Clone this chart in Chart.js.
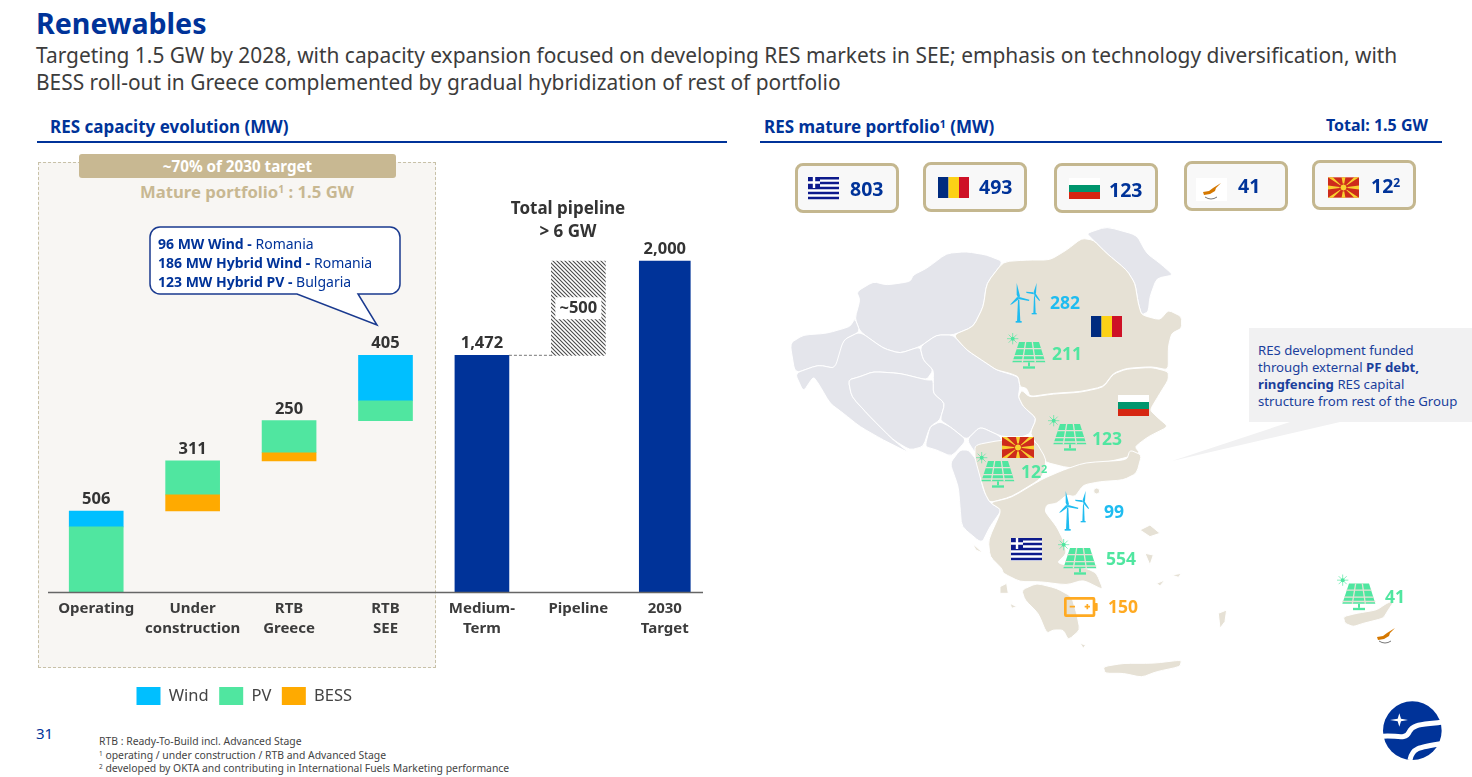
<!DOCTYPE html>
<html>
<head>
<meta charset="utf-8">
<title>Renewables</title>
<script src="https://cdn.jsdelivr.net/npm/chart.js@4"></script>
<style>
  html, body { margin: 0; padding: 0; background: #fff; }
  body { position: relative; width: 1472px; height: 777px; overflow: hidden; font-family: "Noto Sans", sans-serif; color: #333; }
  .t { position: absolute; white-space: nowrap; line-height: 1; }
  .navy { color: #003399; }
  .tan { color: #c8b892; }
  sup { font-size: 62%; line-height: 0; vertical-align: 0.5em; }
  #panel { position: absolute; left: 38px; top: 162px; width: 396px; height: 504px; background: #f8f6f3; border: 1px dashed #c8c1a8; }
  #pill { position: absolute; left: 79px; top: 154px; width: 317px; height: 24px; background: #c8b892; border-radius: 3px; color: #fff; font-weight: 700; font-size: 15.2px; line-height: 25px; text-align: center; }
  .rule { position: absolute; height: 2px; background: #003399; }
  #chart { position: absolute; left: 0; top: 0; z-index: 2; }
  #art { position: absolute; left: 0; top: 0; z-index: 3; pointer-events: none; }
  .over { z-index: 4; }
  .box { position: absolute; width: 98px; height: 44px; background: #f8f8f8; border: 3px solid #c4b78f; border-radius: 8px; }
  #note { position: absolute; left: 1249px; top: 328px; width: 223px; height: 94px; background: #f1f1f2; }
  #note div { position: absolute; left: 9px; top: 14px; font-size: 13.2px; line-height: 17px; color: #1a3f9c; white-space: nowrap; }
  #foot { position: absolute; left: 99px; top: 735px; font-size: 10.4px; line-height: 13.5px; color: #444; white-space: nowrap; }
</style>
</head>
<body>

<div class="t navy" style="left:36px;top:9px;font-size:28.6px;font-weight:700">Renewables</div>
<div class="t" style="left:36px;top:42px;font-size:20.9px;line-height:26.5px;color:#3c3c3c">Targeting 1.5 GW by 2028, with capacity expansion focused on developing RES markets in SEE; emphasis on technology diversification, with<br>BESS roll-out in Greece complemented by gradual hybridization of rest of portfolio</div>

<div class="t navy" style="left:50px;top:118px;font-size:17px;font-weight:700">RES capacity evolution (MW)</div>
<div class="rule" style="left:37px;top:141px;width:690px"></div>
<div class="t navy" style="left:764px;top:118px;font-size:17px;font-weight:700">RES mature portfolio<sup>1</sup> (MW)</div>
<div class="t navy" style="right:44px;top:117px;font-size:16px;font-weight:700">Total: 1.5 GW</div>
<div class="rule" style="left:760px;top:141px;width:682px"></div>

<div id="panel"></div>
<div id="pill">~70% of 2030 target</div>
<div class="t tan" style="left:140px;top:184px;font-size:16.7px;font-weight:700">Mature portfolio<sup>1</sup> : 1.5 GW</div>
<div class="t over" style="left:468px;top:196px;width:200px;text-align:center;font-size:17px;line-height:23px;font-weight:700;white-space:normal">Total pipeline<br>&gt; 6 GW</div>

<canvas id="chart" width="723" height="715" style="width:723px;height:715px"></canvas>

<div class="t navy over" style="left:158px;top:234px;font-size:14px;line-height:19px"><b>96 MW Wind - </b>Romania<br><b>186 MW Hybrid Wind - </b>Romania<br><b>123 MW Hybrid PV - </b>Bulgaria</div>

<div id="boxes"></div>

<div id="note"><div>RES development funded<br>through external <b>PF debt,</b><br><b>ringfencing</b> RES capital<br>structure from rest of the Group</div></div>

<div id="labels"></div>

<div class="t navy" style="left:36px;top:726px;font-size:15px">31</div>
<div id="foot">RTB : Ready-To-Build incl. Advanced Stage<br><sup>1</sup> operating / under construction / RTB and Advanced Stage<br><sup>2</sup> developed by OKTA and contributing in International Fuels Marketing performance</div>

<svg id="art" width="1472" height="777" viewBox="0 0 1472 777">
  <defs>
    <symbol id="solar" viewBox="0 0 117 108">
      <g fill="#50e6a0">
        <circle cx="17" cy="17" r="6"/>
        <path d="M17 0v34M0 17h34M5 5l24 24M29 5L5 29" stroke="#50e6a0" stroke-width="2"/>
        <path d="M36 27H96L115 88H16Z"/>
        <rect x="63" y="88" width="6" height="12"/>
        <rect x="48" y="100" width="36" height="7"/>
      </g>
      <path d="M28 47H103M21 68H109M16 81H115M56 27L46 88M76 27L85 88" stroke="#e6e1d5" stroke-width="4" fill="none"/>
    </symbol>
    <symbol id="turbine" viewBox="0 0 90 120">
      <g fill="#1fbcf0">
        <path d="M24 50h4l3 66h-10z"/>
        <rect x="17" y="114" width="18" height="5"/>
        <path d="M20 0L30 40 25 46 20 35Z"/>
        <path d="M28 42L58 50 57 54 24 48Z"/>
        <path d="M0 65L22 41 27 48 6 64Z"/>
        <path d="M72 40h3l2 52h-7z"/>
        <rect x="65" y="90" width="15" height="4"/>
        <path d="M80 0L78 30 73 35 71 27Z"/>
        <path d="M76 30L90 52 88 54 72 36Z"/>
        <path d="M48 26L70 28 72 34 50 30Z"/>
      </g>
    </symbol>
    <symbol id="battery" viewBox="0 0 102 60">
      <rect x="4" y="4" width="86" height="52" rx="2" fill="none" stroke="#ffaa22" stroke-width="8"/>
      <rect x="92" y="18" width="9" height="24" rx="2" fill="#ffaa22"/>
      <path d="M17 29h16M62 29h16M70 21v16" stroke="#ffaa22" stroke-width="5"/>
    </symbol>
    <symbol id="fl-gr" viewBox="0 0 31 23">
      <rect width="31" height="23" fill="#fff"/>
      <path d="M0 1.2H31M0 6H31M0 11H31M0 16H31M0 21H31" stroke="#0d1a8c" stroke-width="2.5"/>
      <rect width="12" height="11" fill="#0d1a8c"/>
      <path d="M6 0V11M0 5.5H12" stroke="#fff" stroke-width="2.4"/>
    </symbol>
    <symbol id="fl-ro" viewBox="0 0 31 21">
      <rect width="10.5" height="21" fill="#002b7f"/><rect x="10.5" width="10.5" height="21" fill="#fcd116"/><rect x="21" width="10" height="21" fill="#ce1126"/>
    </symbol>
    <symbol id="fl-bg" viewBox="0 0 31 21">
      <rect width="31" height="7" fill="#fff"/><rect y="7" width="31" height="7" fill="#00966e"/><rect y="14" width="31" height="7" fill="#d62612"/>
    </symbol>
    <symbol id="fl-mk" viewBox="0 0 32 21">
      <rect width="32" height="21" fill="#ce2b1c"/>
      <path d="M16 10.5L0 0H5ZM16 10.5L32 0H27ZM16 10.5L0 21H5ZM16 10.5L32 21H27ZM16 10.5L14 0H18ZM16 10.5L14 21H18ZM16 10.5L0 8.5V12.5ZM16 10.5L32 8.5V12.5Z" fill="#f8d030"/>
      <circle cx="16" cy="10.5" r="3.6" fill="#f8d030" stroke="#ce2b1c"/>
    </symbol>
    <symbol id="fl-cy" viewBox="0 0 31 23">
      <rect width="31" height="23" fill="#fff"/>
      <path d="M7 14L13 13 17 10 25 5 20 10 19 13 14 16 8 17Z" fill="#d57800"/>
      <path d="M9 19Q15 23 21 19" fill="none" stroke="#777" stroke-width="1"/>
    </symbol>
  </defs>

  <!-- map, traced roughly, zoom crop coordinates -->
  <g transform="translate(760,220) scale(0.3333)" stroke="#fff" stroke-width="3" stroke-linejoin="round">
    <g fill="#e4e5eb">
      <polygon points="285,295 300,240 290,215 340,185 380,195 450,185 460,165 500,145 560,100 620,95 680,105 730,125 680,190 670,260 640,320 580,345 530,345 480,380 420,400 370,385 300,335"/>
      <polygon points="90,370 130,345 200,340 270,320 285,295 300,335 250,360 240,420 225,445 175,435 105,460"/>
      <polygon points="105,460 175,435 225,445 250,360 300,335 370,385 420,400 480,380 490,420 520,450 500,480 420,460 340,455 300,470 265,480 275,530 330,590 400,660 450,700 370,660 300,620 250,580 210,550 175,490 160,470 130,515"/>
      <polygon points="265,480 300,470 340,455 420,460 500,480 520,480 520,520 555,550 540,600 510,620 490,680 450,690 400,660 330,590 275,530"/>
      <polygon points="480,380 530,345 580,345 620,390 680,430 710,450 775,470 780,500 775,530 790,560 830,595 810,640 790,650 725,650 660,620 620,660 570,620 540,600 555,550 520,520 520,480 520,450 490,420"/>
      <polygon points="510,620 540,605 570,620 620,660 575,710 530,690 495,680"/>
      <polygon points="620,660 660,620 725,650 725,690 660,720"/>
      <polygon points="980,40 1040,20 1130,45 1160,100 1200,130 1240,165 1190,175 1170,230 1165,275 1145,285 1135,250 1125,190 1100,150 1040,100 1000,60"/>
    </g>
    <g fill="#e6e1d5">
      <polygon points="965,55 1000,60 1040,100 1100,150 1125,190 1135,250 1145,285 1200,300 1225,270 1265,290 1265,325 1235,340 1225,380 1225,450 1175,440 1100,445 1060,460 1030,500 960,515 880,520 810,530 800,505 780,500 775,470 750,460 710,450 680,430 620,390 580,345 640,320 670,260 680,190 730,125 800,120 870,120 920,90"/>
      <polygon points="1225,455 1175,442 1100,447 1060,462 1030,502 960,517 880,522 810,532 785,510 775,530 790,560 830,595 810,640 840,690 850,725 930,745 1000,735 1090,715 1140,700 1125,680 1165,650 1225,620 1190,590 1170,570 1200,520 1225,480"/>
    </g>
  </g>
  <g transform="translate(940,440) scale(0.3333)" stroke="#fff" stroke-linejoin="round">
    <g fill="#e4e5eb" stroke-width="3">
      <polygon points="60,30 30,70 55,140 60,200 65,260 125,310 150,260 185,210 150,188 130,150 110,60 85,30"/>
    </g>
    <g fill="#e6e1d5" stroke-width="3">
      <polygon points="105,15 185,0 285,0 320,60 305,115 215,170 150,188 135,160 120,110 105,55"/>
      <polygon points="150,188 215,172 305,118 370,90 435,68 560,60 570,30 605,45 590,100 550,120 480,125 430,135 405,170 380,165 350,190 320,195 315,215 350,260 370,300 380,340 350,370 440,385 470,400 490,450 430,420 380,435 300,425 240,425 190,400 185,385 150,350 145,300 185,210"/>
      <polygon points="245,450 290,430 350,445 395,470 410,520 420,570 385,600 370,570 340,570 320,580 295,520 255,480"/>
      <polygon points="490,680 550,670 640,670 725,660 720,680 650,695 605,712 550,700 495,700"/>
      <polygon points="600,270 630,255 660,280 630,290"/>
      <polygon points="615,340 640,345 630,375"/>
      <polygon points="835,520 860,510 855,545 840,565"/>
      <polygon points="97,310 130,340 108,330"/>
      <polygon points="180,440 200,430 205,460 180,460"/>
      <polygon points="210,490 230,500 215,505"/>
      <polygon points="420,610 437,615 430,625"/>
      <polygon points="695,405 725,400 715,412"/>
      <polygon points="650,430 675,420 660,438"/>
      <circle cx="470" cy="153" r="9"/>
      <polygon points="1210,530 1250,520 1310,510 1340,490 1365,480 1345,510 1330,535 1270,550 1240,560 1215,550"/>
    </g>
  </g>

  <!-- tail of the grey note -->
  <polygon points="1172,461 1290,422 1340,422" fill="#f1f1f2"/>

  <!-- callout above RTB SEE -->
  <path d="M160 227H390a10 10 0 0 1 10 10V284a10 10 0 0 1 -10 10H358L377 325 297 294H160a10 10 0 0 1 -10 -10V237a10 10 0 0 1 10 -10Z" fill="#fff" stroke="#1a3a8f" stroke-width="1.5"/>

  <!-- flags in the boxes -->
  <use href="#fl-gr" x="808" y="177" width="31" height="23"/>
  <use href="#fl-ro" x="938" y="177" width="31" height="21"/>
  <use href="#fl-bg" x="1069" y="178" width="31" height="21"/>
  <use href="#fl-cy" x="1196" y="178" width="31" height="23"/>
  <use href="#fl-mk" x="1328" y="177" width="31" height="21"/>

  <!-- flags on the map -->
  <use href="#fl-ro" x="1091" y="316" width="31" height="21"/>
  <use href="#fl-bg" x="1118" y="395" width="31" height="21"/>
  <use href="#fl-mk" x="1002" y="437" width="32" height="21"/>
  <use href="#fl-gr" x="1011" y="538" width="31" height="23"/>
  <path d="M1377 637l6-1 4-3 8-5-5 5-1 3-5 3-6 1Z" fill="#d57800"/>
  <path d="M1379 641q6 4 12 0" fill="none" stroke="#777"/>

  <!-- technology icons -->
  <use href="#turbine" x="1010" y="283" width="30" height="40"/>
  <use href="#solar" x="1007" y="333" width="39" height="36"/>
  <use href="#solar" x="1048" y="415" width="39" height="36"/>
  <use href="#solar" x="976" y="452" width="39" height="36"/>
  <use href="#turbine" x="1059" y="491" width="30" height="40"/>
  <use href="#solar" x="1058" y="539" width="39" height="36"/>
  <use href="#battery" x="1064" y="597" width="34" height="20"/>
  <use href="#solar" x="1337" y="574" width="39" height="37"/>

  <!-- logo -->
  <g transform="translate(1360,690) scale(0.3333)">
    <circle cx="157" cy="122" r="88" fill="#003399"/>
    <path d="M60 140C100 130 135 155 148 125C160 100 190 105 252 95" fill="none" stroke="#fff" stroke-width="15"/>
    <path d="M150 210C156 175 172 172 252 160" fill="none" stroke="#fff" stroke-width="15"/>
    <path d="M118 70L123 86 144 90 123 94 118 110 113 94 90 90 113 86Z" fill="#fff"/>
  </g>
</svg>

<script>
'use strict';

// categories of the waterfall
let categories = ['Operating', ['Under', 'construction'], ['RTB', 'Greece'], ['RTB', 'SEE'], ['Medium-', 'Term'], 'Pipeline', ['2030', 'Target']];

// MW, floating bars sit on baseValues
let baseValues = [0, 506, 817, 1067, null, 1472, null];
let bessValues = [null, 100, 50, null, null, null, null];
let pvValues = [407, 211, 200, 123, null, null, null];
let windValues = [99, null, null, 282, null, null, null];
let mediumTermValues = [null, null, null, null, 1472, null, null];

// the source draws these two taller than labelled, heights
let pipelineValues = [null, null, null, null, null, 584, null];
let targetValues = [null, null, null, null, null, null, 2056];

let totalLabels = ['506', '311', '250', '405', '1,472', '', '2,000'];
let pipelineLabel = '~500';

// portfolio by country
let countryTotals = ['803', '493', '123', '41', '12<sup>2</sup>'];
let mapWind = ['282', '99'];
let mapPv = ['211', '123', '12<sup>2</sup>', '554', '41'];
let mapBess = ['150'];

let navy = '#003399';
let windColor = '#00bfff';
let pvColor = '#50e6a0';
let bessColor = '#ffaa00';

// layout of the right hand side
let boxPlaces = [[795, 163], [923, 162], [1054, 163], [1184, 161], [1312, 160]];
let totalPlaces = [[850, 179], [979, 177], [1109, 180], [1238, 176], [1371, 176]];
let windPlaces = [[1050, 294], [1104, 503]];
let pvPlaces = [[1052, 345], [1092, 430], [1021, 463], [1106, 550], [1385, 588]];
let bessPlaces = [[1108, 598]];

function addText(parent, html, place, color, size) {
  let el = document.createElement('div');
  el.className = 't over';
  el.style.left = place[0] + 'px';
  el.style.top = place[1] + 'px';
  el.style.color = color;
  el.style.fontSize = size + 'px';
  el.style.fontWeight = '700';
  el.innerHTML = html;
  parent.appendChild(el);
}

let boxes = document.getElementById('boxes');
for (let i = 0; i < boxPlaces.length; i++) {
  let box = document.createElement('div');
  box.className = 'box';
  box.style.left = boxPlaces[i][0] + 'px';
  box.style.top = boxPlaces[i][1] + 'px';
  boxes.appendChild(box);
  addText(boxes, countryTotals[i], totalPlaces[i], navy, 19.5);
}

let labels = document.getElementById('labels');
mapWind.forEach(function (v, i) { addText(labels, v, windPlaces[i], '#1fbcf0', 17.5); });
mapPv.forEach(function (v, i) { addText(labels, v, pvPlaces[i], pvColor, 17.5); });
mapBess.forEach(function (v, i) { addText(labels, v, bessPlaces[i], '#ffaa22', 17.5); });

// take the hard corners off the traced map outlines
document.querySelectorAll('#art g g polygon').forEach(function (poly) {
  let pts = poly.getAttribute('points').trim().split(/\s+/).map(function (p) { return p.split(',').map(Number); });
  if (pts.length < 5) return;
  let d = '';
  pts.forEach(function (p, i) {
    let prev = pts[(i + pts.length - 1) % pts.length];
    let next = pts[(i + 1) % pts.length];
    let a = [p[0] + (prev[0] - p[0]) * 0.25, p[1] + (prev[1] - p[1]) * 0.25];
    let b = [p[0] + (next[0] - p[0]) * 0.25, p[1] + (next[1] - p[1]) * 0.25];
    d += (i === 0 ? 'M' : 'L') + a[0] + ' ' + a[1] + 'Q' + p[0] + ' ' + p[1] + ' ' + b[0] + ' ' + b[1];
  });
  let path = document.createElementNS('http://www.w3.org/2000/svg', 'path');
  path.setAttribute('d', d + 'Z');
  poly.replaceWith(path);
});

function hatch() {
  let tile = document.createElement('canvas');
  tile.width = 4;
  tile.height = 4;
  let c = tile.getContext('2d');
  c.fillStyle = '#fff';
  c.fillRect(0, 0, 4, 4);
  c.strokeStyle = '#4a4a4a';
  c.lineWidth = 1.1;
  c.beginPath();
  c.moveTo(-1, -1);
  c.lineTo(5, 5);
  c.moveTo(3, -1);
  c.lineTo(5, 1);
  c.moveTo(-1, 3);
  c.lineTo(1, 5);
  c.stroke();
  return document.getElementById('chart').getContext('2d').createPattern(tile, 'repeat');
}

// the last column stands closer to its neighbour in the source
class NudgedCategoryScale extends Chart.CategoryScale {
  getPixelForValue(value, index) {
    let px = super.getPixelForValue(value, index);
    return value === categories.length - 1 ? px - 10 : px;
  }
}
NudgedCategoryScale.id = 'nudgedCategory';
NudgedCategoryScale.defaults = Chart.CategoryScale.defaults;
Chart.register(NudgedCategoryScale);

let slidePlugin = {
  id: 'slide',
  afterLayout(chart) {
    chart.legend.left = 126;
  },
  afterDatasetsDraw(chart) {
    let ctx = chart.ctx;
    let x = chart.scales.x;
    let y = chart.scales.y;

    ctx.save();
    // base line
    ctx.strokeStyle = '#666';
    ctx.lineWidth = 1.5;
    ctx.beginPath();
    ctx.moveTo(chart.chartArea.left, y.getPixelForValue(0));
    ctx.lineTo(703, y.getPixelForValue(0));
    ctx.stroke();

    // connector between medium term and pipeline
    let medium = chart.getDatasetMeta(4).data[4];
    let pipe = chart.getDatasetMeta(5).data[5];
    ctx.strokeStyle = '#777';
    ctx.lineWidth = 1;
    ctx.setLineDash([3, 2]);
    ctx.beginPath();
    ctx.moveTo(medium.x + medium.width / 2, medium.y);
    ctx.lineTo(pipe.x - pipe.width / 2, medium.y);
    ctx.stroke();

    // ~500 inside the hatched bar
    let pipeMiddle = (pipe.y + pipe.base) / 2;
    ctx.setLineDash([]);
    ctx.fillStyle = '#fff';
    ctx.fillRect(pipe.x - 23, pipeMiddle - 11, 46, 22);
    ctx.font = '700 16.5px "Noto Sans"';
    ctx.fillStyle = '#333';
    ctx.textAlign = 'center';
    ctx.textBaseline = 'middle';
    ctx.fillText(pipelineLabel, pipe.x, pipeMiddle);

    // totals above the columns
    ctx.textBaseline = 'alphabetic';
    totalLabels.forEach(function (text, i) {
      let top = baseValues[i] || 0;
      [bessValues, pvValues, windValues, mediumTermValues, targetValues].forEach(function (series) {
        top += series[i] || 0;
      });
      ctx.fillText(text, x.getPixelForValue(i), y.getPixelForValue(top) - 7);
    });
    ctx.restore();
  }
};

function bars(label, data, color, thickness) {
  return { label: label, data: data, backgroundColor: color, stack: 's', barThickness: thickness || 54, borderWidth: 0 };
}

new Chart(document.getElementById('chart'), {
  type: 'bar',
  data: {
    labels: categories,
    datasets: [
      bars('base', baseValues, 'rgba(0,0,0,0)'),
      bars('BESS', bessValues, bessColor),
      bars('PV', pvValues, pvColor),
      bars('Wind', windValues, windColor),
      bars('Medium-Term', mediumTermValues, navy),
      bars('Pipeline', pipelineValues, hatch()),
      bars('2030 Target', targetValues, navy, 51)
    ]
  },
  options: {
    responsive: false,
    animation: false,
    layout: { padding: { left: 48 } },
    scales: {
      x: {
        type: 'nudgedCategory',
        offset: true,
        stacked: true,
        grid: { display: false, drawTicks: false },
        border: { display: false },
        afterFit(scale) { scale.height = 84; },
        ticks: {
          autoSkip: false,
          maxRotation: 0,
          padding: 6,
          color: '#3c3c3c',
          font: { family: '"Noto Sans"', size: 15, weight: '700', lineHeight: 1.33 }
        }
      },
      y: { display: false, stacked: true, min: 0, max: 3677 }
    },
    plugins: {
      tooltip: { enabled: false },
      legend: {
        position: 'bottom',
        align: 'start',
        reverse: true,
        labels: {
          boxWidth: 24,
          boxHeight: 18,
          padding: 10.5,
          color: '#444',
          font: { family: '"Noto Sans"', size: 16.5 },
          filter: function (item) { return ['Wind', 'PV', 'BESS'].includes(item.text); }
        }
      }
    }
  },
  plugins: [slidePlugin]
});
</script>
</body>
</html>
